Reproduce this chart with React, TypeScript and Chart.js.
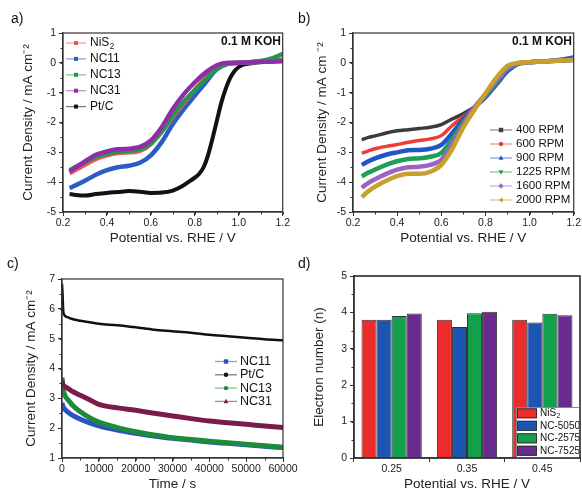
import React, { useEffect, useRef } from 'react';
import { Chart, registerables } from 'chart.js';
Chart.register(...registerables);

const FONT = "'Liberation Sans', Arial, Helvetica, sans-serif";
const AX = '#333333';

// ---------- Panel a: LSV of samples ----------
const A_X = [0.23, 0.25, 0.3, 0.35, 0.4, 0.45, 0.5, 0.55, 0.6, 0.65, 0.7, 0.75, 0.8, 0.85, 0.9, 0.95, 1.0, 1.05, 1.1, 1.15, 1.2];
const A_NIS2 = [-3.7, -3.62, -3.42, -3.22, -3.1, -3.02, -3.0, -2.95, -2.72, -2.3, -1.8, -1.35, -0.9, -0.5, -0.17, -0.02, 0.0, 0.02, 0.04, 0.06, 0.08];
const A_NC11 = [-4.2, -4.13, -3.95, -3.75, -3.6, -3.5, -3.45, -3.35, -3.1, -2.65, -2.05, -1.55, -1.1, -0.65, -0.22, -0.03, 0.0, 0.02, 0.04, 0.06, 0.1];
const A_NC13 = [-3.6, -3.52, -3.33, -3.15, -3.05, -2.98, -2.95, -2.9, -2.7, -2.3, -1.75, -1.3, -0.92, -0.55, -0.2, -0.03, 0.0, 0.02, 0.06, 0.15, 0.3];
const A_NC31 = [-3.65, -3.55, -3.3, -3.08, -2.97, -2.9, -2.88, -2.82, -2.6, -2.15, -1.55, -1.05, -0.65, -0.32, -0.08, 0.0, 0.0, 0.02, 0.03, 0.04, 0.05];
const A_PTC_X = [0.23, 0.25, 0.3, 0.35, 0.4, 0.45, 0.5, 0.55, 0.6, 0.65, 0.7, 0.75, 0.78, 0.8, 0.82, 0.84, 0.86, 0.88, 0.9, 0.92, 0.94, 0.96, 0.98, 1.0, 1.02, 1.05, 1.1, 1.15];
const A_PTC = [-4.4, -4.42, -4.45, -4.4, -4.36, -4.33, -4.3, -4.32, -4.36, -4.35, -4.28, -4.1, -3.95, -3.85, -3.72, -3.5, -3.1, -2.55, -1.95, -1.35, -0.88, -0.52, -0.28, -0.14, -0.06, -0.02, 0.03, 0.05];
const A_LABELS = ['NiS_2', 'NC11', 'NC13', 'NC31', 'Pt/C'];
const A_COLORS = ['#f05656', '#2c5cc5', '#23984a', '#8e2fa8', '#111111'];

// ---------- Panel b: rotation rates ----------
const B_X = [0.24, 0.27, 0.3, 0.35, 0.4, 0.45, 0.5, 0.55, 0.6, 0.65, 0.7, 0.75, 0.8, 0.85, 0.9, 0.95, 1.0, 1.05, 1.1, 1.15, 1.2];
const B_400 = [-2.58, -2.5, -2.45, -2.35, -2.28, -2.24, -2.2, -2.16, -2.07, -1.88, -1.7, -1.48, -1.12, -0.65, -0.2, -0.02, 0.02, 0.04, 0.06, 0.08, 0.1];
const B_600 = [-3.03, -2.95, -2.88, -2.8, -2.74, -2.66, -2.6, -2.55, -2.44, -2.1, -1.8, -1.5, -1.15, -0.7, -0.25, -0.02, 0.02, 0.04, 0.06, 0.08, 0.1];
const B_900 = [-3.42, -3.3, -3.2, -3.08, -3.0, -2.93, -2.92, -2.88, -2.75, -2.35, -1.9, -1.5, -1.15, -0.72, -0.28, -0.03, 0.02, 0.04, 0.07, 0.11, 0.18];
const B_1225 = [-3.81, -3.68, -3.58, -3.42, -3.3, -3.22, -3.2, -3.15, -3.02, -2.55, -2.0, -1.5, -1.1, -0.66, -0.22, -0.02, 0.02, 0.04, 0.06, 0.08, 0.1];
const B_1600 = [-4.19, -4.02, -3.9, -3.72, -3.58, -3.5, -3.48, -3.42, -3.25, -2.7, -2.08, -1.5, -1.05, -0.6, -0.18, -0.01, 0.02, 0.04, 0.06, 0.08, 0.1];
const B_2000 = [-4.5, -4.3, -4.15, -3.95, -3.8, -3.72, -3.72, -3.65, -3.42, -2.88, -2.16, -1.58, -1.03, -0.5, -0.1, 0.0, 0.02, 0.04, 0.06, 0.08, 0.1];
const B_LABELS = ['400 RPM', '600 RPM', '900 RPM', '1225 RPM', '1600 RPM', '2000 RPM'];
const B_COLORS = ['#3c3c3c', '#ee3b3b', '#2452c9', '#1f9e55', '#9b63c4', '#c9a02c'];
const B_MARKERS = ['rect', 'circle', 'triangle', 'triangleDown', 'diamond', 'triangleLeft'];

// ---------- Panel c: chronoamperometry ----------
const C_X = [0, 200, 500, 1000, 2000, 3000, 5000, 7500, 10000, 15000, 20000, 25000, 30000, 35000, 40000, 45000, 50000, 55000, 60000];
const C_NC11 = [2.85, 2.75, 2.68, 2.6, 2.5, 2.42, 2.3, 2.18, 2.08, 1.94, 1.83, 1.74, 1.66, 1.6, 1.54, 1.49, 1.44, 1.39, 1.35];
const C_NC13 = [3.7, 3.4, 3.2, 3.05, 2.9, 2.75, 2.55, 2.35, 2.2, 2.02, 1.88, 1.77, 1.68, 1.62, 1.56, 1.51, 1.46, 1.41, 1.36];
const C_NC31 = [3.6, 3.48, 3.42, 3.38, 3.3, 3.22, 3.1, 2.95, 2.8, 2.68, 2.6, 2.5, 2.41, 2.32, 2.24, 2.18, 2.13, 2.07, 2.02];
const C_PTC_X = [0, 150, 300, 600, 1500, 3000, 5000, 10000, 15000, 20000, 25000, 30000, 35000, 40000, 45000, 50000, 55000, 60000];
const C_PTC = [6.85, 6.5, 6.0, 5.8, 5.72, 5.65, 5.6, 5.5, 5.45, 5.38, 5.3, 5.25, 5.2, 5.13, 5.08, 5.03, 4.98, 4.95];
const C_LABELS = ['NC11', 'Pt/C', 'NC13', 'NC31'];
const C_COLORS = ['#2b52c2', '#111111', '#1d8a3c', '#7b1b4a'];
const C_MARKERS = ['rect', 'circle', 'circle', 'triangle'];

// ---------- Panel d: electron number ----------
const D_CATEGORIES = ['0.25', '0.35', '0.45'];
const D_NIS2 = [3.8, 3.8, 3.8];
const D_5050 = [3.8, 3.6, 3.72];
const D_2575 = [3.9, 3.98, 3.96];
const D_7525 = [3.97, 4.02, 3.92];
const D_LABELS = ['NiS_2', 'NC-5050', 'NC-2575', 'NC-7525'];
const D_COLORS = ['#ec2b2b', '#1d55b2', '#13a04c', '#6a2b8e'];

const pts = (xs: number[], ys: number[]) => xs.map((x, i) => ({ x, y: ys[i] }));

const tickFont = { family: FONT, size: 10.5 };
const titleFont = { family: FONT, size: 13.5 };

function linAxis(o: { pos: 'x' | 'y'; min: number; max: number; step: number; fmt: (v: number) => string; title: string; size: number; titlePad: number }) {
  const isX = o.pos === 'x';
  return {
    type: 'linear',
    position: isX ? 'bottom' : 'left',
    min: o.min,
    max: o.max,
    ticks: { stepSize: o.step, callback: (v: any) => o.fmt(Number(v)), font: tickFont, color: '#222', padding: isX ? 1 : 3, maxRotation: 0, autoSkip: false },
    grid: { drawOnChartArea: false, drawTicks: true, tickLength: 4, tickColor: AX, tickWidth: 1 },
    border: { display: true, color: AX, width: 1.2 },
    title: { display: true, text: o.title, font: titleFont, color: '#222', padding: isX ? { top: 0, bottom: o.titlePad } : { top: o.titlePad, bottom: 0 } },
    afterFit: (s: any) => { if (isX) s.height = o.size; else s.width = o.size; },
  };
}

function drawMarker(ctx: CanvasRenderingContext2D, style: string, x: number, y: number, r: number, color: string) {
  ctx.fillStyle = color;
  ctx.beginPath();
  if (style === 'rect') ctx.rect(x - r, y - r, 2 * r, 2 * r);
  else if (style === 'circle') ctx.arc(x, y, r, 0, Math.PI * 2);
  else if (style === 'triangle') { ctx.moveTo(x, y - r * 1.2); ctx.lineTo(x + r * 1.1, y + r * 0.8); ctx.lineTo(x - r * 1.1, y + r * 0.8); ctx.closePath(); }
  else if (style === 'triangleDown') { ctx.moveTo(x, y + r * 1.2); ctx.lineTo(x + r * 1.1, y - r * 0.8); ctx.lineTo(x - r * 1.1, y - r * 0.8); ctx.closePath(); }
  else if (style === 'diamond') { ctx.moveTo(x, y - r * 1.3); ctx.lineTo(x + r * 1.1, y); ctx.lineTo(x, y + r * 1.3); ctx.lineTo(x - r * 1.1, y); ctx.closePath(); }
  else if (style === 'triangleLeft') { ctx.moveTo(x - r * 1.2, y); ctx.lineTo(x + r * 0.8, y - r * 1.1); ctx.lineTo(x + r * 0.8, y + r * 1.1); ctx.closePath(); }
  ctx.fill();
}

function drawLabel(ctx: CanvasRenderingContext2D, label: string, x: number, y: number, size: number) {
  const [main, sub] = label.split('_');
  ctx.font = `${size}px ${FONT}`;
  ctx.textAlign = 'left';
  ctx.textBaseline = 'middle';
  ctx.fillStyle = '#111';
  ctx.fillText(main, x, y);
  if (sub) {
    const w = ctx.measureText(main).width;
    ctx.font = `${size * 0.68}px ${FONT}`;
    ctx.fillText(sub, x + w + 0.5, y + size * 0.32);
  }
}

const framePlugin = {
  id: 'frame',
  afterDraw(chart: any) {
    const { ctx, chartArea: a } = chart;
    ctx.save();
    ctx.strokeStyle = AX;
    ctx.lineWidth = 1.2;
    ctx.strokeRect(a.left, a.top, a.right - a.left, a.bottom - a.top);
    ctx.restore();
  },
};

function minorTicks(xStep: number | null, yStep: number | null) {
  return {
    id: 'minorTicks',
    afterDraw(chart: any) {
      const { ctx, chartArea: a } = chart;
      ctx.save();
      ctx.strokeStyle = AX;
      ctx.lineWidth = 1;
      if (xStep) {
        const s = chart.scales.x;
        const n = Math.round((s.max - s.min) / xStep);
        for (let i = 0; i <= n; i++) {
          const p = Math.round(s.getPixelForValue(s.min + i * xStep)) + 0.5;
          ctx.beginPath(); ctx.moveTo(p, a.bottom); ctx.lineTo(p, a.bottom + 2.5); ctx.stroke();
        }
      }
      if (yStep) {
        const s = chart.scales.y;
        const n = Math.round((s.max - s.min) / yStep);
        for (let i = 0; i <= n; i++) {
          const p = Math.round(s.getPixelForValue(s.min + i * yStep)) + 0.5;
          ctx.beginPath(); ctx.moveTo(a.left, p); ctx.lineTo(a.left - 2.5, p); ctx.stroke();
        }
      }
      ctx.restore();
    },
  };
}

function lineLegend(cfg: { x0: number; x1: number; tx: number; y: number; dy: number; size: number; mr: number; labels: string[]; colors: string[]; markers: string[] }) {
  return {
    id: 'lineLegend',
    afterDraw(chart: any) {
      const ctx = chart.ctx;
      ctx.save();
      cfg.labels.forEach((lab, i) => {
        const y = cfg.y + i * cfg.dy;
        ctx.globalAlpha = 0.55;
        ctx.strokeStyle = cfg.colors[i];
        ctx.lineWidth = 1.3;
        ctx.beginPath(); ctx.moveTo(cfg.x0, y); ctx.lineTo(cfg.x1, y); ctx.stroke();
        ctx.globalAlpha = 1;
        drawMarker(ctx, cfg.markers[i], (cfg.x0 + cfg.x1) / 2, y, cfg.mr, cfg.colors[i]);
        drawLabel(ctx, lab, cfg.tx, y, cfg.size);
      });
      ctx.restore();
    },
  };
}

function barLegend(cfg: { left: number; top: number; y: number; dy: number; sx: number; sw: number; sh: number; tx: number; size: number }) {
  return {
    id: 'barLegend',
    afterDraw(chart: any) {
      const { ctx, chartArea: a } = chart;
      ctx.save();
      ctx.fillStyle = '#ffffff';
      ctx.fillRect(cfg.left, cfg.top, a.right - cfg.left, a.bottom - cfg.top);
      ctx.strokeStyle = '#888';
      ctx.lineWidth = 1;
      ctx.strokeRect(cfg.left + 0.5, cfg.top + 0.5, a.right - cfg.left - 1, a.bottom - cfg.top - 1);
      D_LABELS.forEach((lab, i) => {
        const y = cfg.y + i * cfg.dy;
        ctx.fillStyle = D_COLORS[i];
        ctx.fillRect(cfg.sx, y - cfg.sh / 2, cfg.sw, cfg.sh);
        ctx.strokeStyle = '#333';
        ctx.strokeRect(cfg.sx + 0.5, y - cfg.sh / 2 + 0.5, cfg.sw - 1, cfg.sh - 1);
        drawLabel(ctx, lab, cfg.tx, y, cfg.size);
      });
      // redraw frame edge over legend
      ctx.strokeStyle = AX;
      ctx.lineWidth = 1.2;
      ctx.strokeRect(a.left, a.top, a.right - a.left, a.bottom - a.top);
      ctx.restore();
    },
  };
}

function notePlugin(text: string, x: number, y: number) {
  return {
    id: 'note',
    afterDraw(chart: any) {
      const ctx = chart.ctx;
      ctx.save();
      ctx.font = `bold 12px ${FONT}`;
      ctx.textAlign = 'right';
      ctx.textBaseline = 'middle';
      ctx.fillStyle = '#111';
      ctx.fillText(text, x, y);
      ctx.restore();
    },
  };
}

const baseOptions = (padding: any) => ({
  animation: false,
  responsive: false,
  maintainAspectRatio: false,
  layout: { padding },
  plugins: { legend: { display: false }, tooltip: { enabled: false } },
  elements: { point: { radius: 0 }, line: { cubicInterpolationMode: 'monotone' } },
});

const f1 = (v: number) => v.toFixed(1);
const fInt = (v: number) => String(Math.round(v));

function configA(): any {
  const ys = [A_NIS2, A_NC11, A_NC13, A_NC31];
  const orders = [2, 3, 1, 0];
  const ds: any[] = ys.map((y, i) => ({ label: A_LABELS[i], data: pts(A_X, y), borderColor: A_COLORS[i], borderWidth: 4.5, order: orders[i] }));
  ds.push({ label: A_LABELS[4], data: pts(A_PTC_X, A_PTC), borderColor: A_COLORS[4], borderWidth: 4, order: 4 });
  return {
    type: 'line',
    data: { datasets: ds },
    options: {
      ...baseOptions({ top: 33, right: 8, left: 0, bottom: 0 }),
      scales: {
        x: linAxis({ pos: 'x', min: 0.2, max: 1.2, step: 0.2, fmt: f1, title: 'Potential vs. RHE / V', size: 34, titlePad: 0 }),
        y: linAxis({ pos: 'y', min: -5, max: 1, step: 1, fmt: fInt, title: 'Current Density / mA cm⁻²', size: 63, titlePad: 20 }),
      },
    },
    plugins: [framePlugin, minorTicks(0.1, 0.5), notePlugin('0.1 M KOH', 281, 42), lineLegend({ x0: 66, x1: 86, tx: 90, y: 43, dy: 15.9, size: 12, mr: 2, labels: A_LABELS, colors: A_COLORS, markers: ['rect', 'rect', 'rect', 'rect', 'rect'] })],
  };
}

function configB(): any {
  const ys = [B_400, B_600, B_900, B_1225, B_1600, B_2000];
  const ds = ys.map((y, i) => ({ label: B_LABELS[i], data: pts(B_X, y), borderColor: B_COLORS[i], borderWidth: i < 2 ? 3.5 : 4.5, order: 5 - i }));
  return {
    type: 'line',
    data: { datasets: ds },
    options: {
      ...baseOptions({ top: 33, right: 8, left: 0, bottom: 0 }),
      scales: {
        x: linAxis({ pos: 'x', min: 0.2, max: 1.2, step: 0.2, fmt: f1, title: 'Potential vs. RHE / V', size: 34, titlePad: 0 }),
        y: linAxis({ pos: 'y', min: -5, max: 1, step: 1, fmt: fInt, title: 'Current Density / mA cm ⁻²', size: 62, titlePad: 23 }),
      },
    },
    plugins: [framePlugin, minorTicks(0.1, 0.5), notePlugin('0.1 M KOH', 281, 42), lineLegend({ x0: 199, x1: 221, tx: 225, y: 130, dy: 14, size: 11.5, mr: 2.2, labels: B_LABELS, colors: B_COLORS, markers: B_MARKERS })],
  };
}

function configC(): any {
  const ds: any[] = [
    { label: C_LABELS[0], data: pts(C_X, C_NC11), borderColor: C_COLORS[0], borderWidth: 5, order: 3 },
    { label: C_LABELS[1], data: pts(C_PTC_X, C_PTC), borderColor: C_COLORS[1], borderWidth: 2.5, order: 0 },
    { label: C_LABELS[2], data: pts(C_X, C_NC13), borderColor: C_COLORS[2], borderWidth: 5, order: 2 },
    { label: C_LABELS[3], data: pts(C_X, C_NC31), borderColor: C_COLORS[3], borderWidth: 5, order: 1 },
  ];
  return {
    type: 'line',
    data: { datasets: ds },
    options: {
      ...baseOptions({ top: 33, right: 22, left: 0, bottom: 0 }),
      scales: {
        x: linAxis({ pos: 'x', min: 0, max: 60000, step: 10000, fmt: fInt, title: 'Time / s', size: 34, titlePad: 0 }),
        y: linAxis({ pos: 'y', min: 1, max: 7, step: 1, fmt: fInt, title: 'Current Density / mA cm⁻²', size: 62, titlePad: 23 }),
      },
    },
    plugins: [framePlugin, minorTicks(5000, 0.5), lineLegend({ x0: 215, x1: 237, tx: 240, y: 115.5, dy: 13.3, size: 12.5, mr: 2.2, labels: C_LABELS, colors: C_COLORS, markers: C_MARKERS })],
  };
}

function configD(): any {
  const ys = [D_NIS2, D_5050, D_2575, D_7525];
  const ds = ys.map((y, i) => ({ label: D_LABELS[i], data: y, backgroundColor: D_COLORS[i], borderColor: '#333', borderWidth: 1, categoryPercentage: 0.8, barPercentage: 1.0 }));
  const yAx: any = linAxis({ pos: 'y', min: 0, max: 5, step: 1, fmt: fInt, title: 'Electron number (n)', size: 63, titlePad: 20 });
  return {
    type: 'bar',
    data: { labels: D_CATEGORIES, datasets: ds },
    options: {
      ...baseOptions({ top: 30, right: 2, left: 0, bottom: 0 }),
      scales: {
        x: {
          type: 'category',
          position: 'bottom',
          ticks: { font: tickFont, color: '#222', padding: 1, maxRotation: 0 },
          grid: { drawOnChartArea: false, drawTicks: true, tickLength: 4, tickColor: AX },
          border: { display: true, color: AX, width: 1.2 },
          title: { display: true, text: 'Potential vs. RHE / V', font: titleFont, color: '#222', padding: { top: 0, bottom: 0 } },
          afterFit: (s: any) => { s.height = 34; },
        },
        y: yAx,
      },
    },
    plugins: [framePlugin, minorTicks(null, 0.5), barLegend({ left: 225, top: 161, y: 167.3, dy: 12.5, sx: 226, sw: 20, sh: 10, tx: 249, size: 10 })],
  };
}

function ChartPanel({ left, top, width, height, build }: { left: number; top: number; width: number; height: number; build: () => any }) {
  const ref = useRef<HTMLCanvasElement>(null);
  useEffect(() => {
    const chart = new Chart(ref.current as HTMLCanvasElement, build());
    return () => chart.destroy();
  }, []);
  return (
    <div style={{ position: 'absolute', left, top, width, height }}>
      <canvas ref={ref} width={width} height={height} style={{ width, height, display: 'block' }} />
    </div>
  );
}

const labelStyle = (left: number, top: number): React.CSSProperties => ({
  position: 'absolute', left, top, fontSize: 14, lineHeight: '16px', fontFamily: FONT, color: '#111',
});

export default function App() {
  return (
    <div style={{ position: 'absolute', left: 0, top: 0, width: 582, height: 492, background: '#fff', overflow: 'hidden' }}>
      <ChartPanel left={0} top={0} width={291} height={246} build={configA} />
      <ChartPanel left={291} top={0} width={291} height={246} build={configB} />
      <ChartPanel left={0} top={246} width={305} height={246} build={configC} />
      <ChartPanel left={291} top={246} width={291} height={246} build={configD} />
      <div style={labelStyle(11, 10)}>a)</div>
      <div style={labelStyle(298, 10)}>b)</div>
      <div style={labelStyle(7, 255)}>c)</div>
      <div style={labelStyle(298, 255)}>d)</div>
    </div>
  );
}
